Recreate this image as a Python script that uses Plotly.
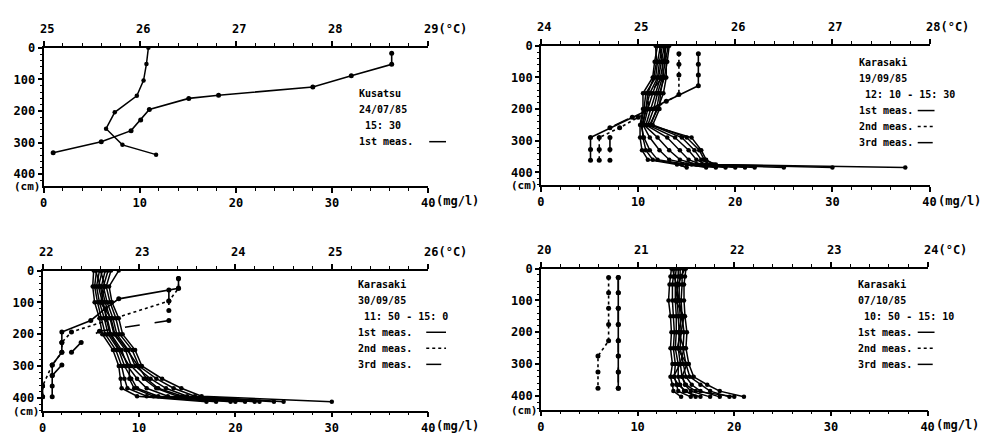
import plotly.graph_objects as go

W, H = 988, 435

# ---------------- DATA ----------------
# Panel 1 : Kusatsu 24/07/85 15:30 (1st meas.)
p1_temp_depth = [17, 52, 88, 124, 150, 160, 195, 228, 262, 297, 332]
p1_temp = [28.62, 28.62, 28.20, 27.80, 26.82, 26.51, 26.10, 26.01, 25.91, 25.60, 25.10]
p1_ss_depth = [0, 51, 103, 152, 204, 256, 307, 338]
p1_ss = [10.9, 10.7, 10.4, 9.7, 7.4, 6.5, 8.2, 11.7]

# Panel 2 : Karasaki 19/09/85 12:10 - 15:30
p2_t1_depth = [25, 58, 92, 126, 175, 226, 290, 328, 362]
p2_t1 = [25.62, 25.62, 25.62, 25.62, 25.29, 24.94, 24.51, 24.51, 24.51]
p2_t2_depth = [25, 58, 92, 154, 226, 259, 290, 328, 362]
p2_t2 = [25.42, 25.42, 25.42, 25.42, 25.00, 24.81, 24.60, 24.60, 24.60]
p2_t3_depth = [0, 50, 100, 150, 200, 259, 290, 328, 362]
p2_t3 = [25.28, 25.27, 25.25, 25.12, 25.10, 24.71, 24.71, 24.71, 24.71]
p2_ss_depth = [0, 50, 100, 150, 200, 250, 290, 330, 360, 375, 385]
p2_ss = [
    [12.0, 11.7, 11.5, 10.5, 10.5, 10.2, 10.2, 10.4, 11.0, 14.0, 15.0],
    [12.3, 12.0, 11.8, 10.8, 10.6, 10.3, 10.6, 11.2, 12.0, 15.0, 17.0],
    [12.5, 12.2, 12.0, 11.2, 10.8, 10.5, 11.2, 12.2, 13.2, 15.5, 19.0],
    [12.7, 12.4, 12.1, 11.5, 11.0, 10.6, 12.0, 13.2, 14.3, 16.0, 20.0],
    [12.9, 12.6, 12.3, 11.8, 11.3, 10.8, 13.0, 14.3, 15.2, 16.5, 22.0],
    [13.1, 12.8, 12.5, 12.0, 11.6, 11.0, 13.8, 15.2, 16.0, 17.0, 25.0],
    [13.2, 13.0, 12.7, 12.2, 11.9, 11.3, 14.5, 15.8, 16.5, 17.5, 30.0],
    [12.2, 12.5, 12.6, 12.3, 12.2, 11.5, 15.0, 16.3, 16.8, 18.0, 37.5],
    [11.8, 11.9, 11.6, 11.0, 10.8, 10.4, 10.5, 10.8, 11.5, 14.5, 18.0],
    [12.6, 12.9, 12.9, 12.6, 12.0, 11.2, 15.5, 16.5, 17.0, 17.8, 21.0],
]

# Panel 3 : Karasaki 30/09/85 11:50 - 15:0
p3_t1_depth = [25, 56, 89, 120, 157, 193, 226, 257, 297, 330, 363, 397]
p3_t1 = [23.41, 23.41, 22.79, 22.65, 22.50, 22.20, 22.20, 22.20, 22.10, 22.10, 22.10, 22.10]
p3_t2_depth = [25, 56, 96, 193, 226, 257, 297, 363, 397]
p3_t2 = [23.41, 23.41, 23.31, 22.30, 22.20, 22.20, 22.10, 22.00, 22.00]
p3_t3_depth = [61, 96, 126, 157, 191, 226, 257, 297, 330, 363, 397]
p3_t3 = [23.31, 23.31, 23.31, 23.31, 22.59, 22.40, 22.30, 22.20, 22.10, 22.00, 22.00]
p3_ss_depth = [0, 50, 100, 150, 200, 250, 300, 340, 370, 395, 412]
p3_ss = [
    [5.3, 5.2, 5.4, 5.9, 6.2, 7.3, 7.9, 8.1, 8.2, 9.8, 17.0],
    [5.6, 5.4, 5.7, 6.1, 6.5, 7.6, 8.2, 8.5, 8.8, 10.8, 18.0],
    [5.9, 5.6, 5.9, 6.4, 6.8, 7.9, 8.5, 9.2, 9.8, 12.0, 19.5],
    [6.2, 5.8, 6.2, 6.7, 7.1, 8.2, 8.8, 9.8, 10.8, 13.0, 21.0],
    [6.5, 6.1, 6.5, 7.0, 7.4, 8.6, 9.2, 10.5, 11.8, 14.0, 22.5],
    [6.8, 6.3, 6.7, 7.3, 7.7, 8.9, 9.6, 11.2, 12.8, 15.0, 24.0],
    [7.1, 6.6, 7.0, 7.6, 8.0, 9.3, 10.0, 11.8, 13.6, 15.8, 25.0],
    [7.9, 6.9, 7.2, 7.9, 8.3, 9.6, 10.3, 12.4, 14.4, 16.5, 30.0],
    [5.5, 6.0, 6.3, 6.6, 7.0, 8.0, 9.0, 9.0, 9.5, 11.5, 20.0],
    [6.0, 6.5, 6.0, 7.1, 7.5, 8.8, 9.9, 10.8, 12.0, 14.5, 22.0],
]

# Panel 4 : Karasaki 07/10/85 10:50 - 15:10
p4_t_depth = [28, 76, 125, 176, 227, 275, 325, 376]
p4_t1 = [20.80, 20.80, 20.80, 20.80, 20.80, 20.80, 20.80, 20.80]
p4_t2 = [20.70, 20.70, 20.70, 20.70, 20.70, 20.59, 20.59, 20.59]
p4_t3 = [20.80, 20.80, 20.80, 20.80, 20.80, 20.80, 20.80, 20.80]
p4_ss_depth = [0, 25, 50, 100, 150, 200, 250, 300, 340, 365, 385, 403]
p4_ss = [
    [13.5, 13.4, 13.3, 13.2, 13.4, 13.5, 13.4, 13.6, 13.4, 13.6, 13.7, 14.5],
    [13.8, 13.7, 13.6, 13.6, 13.7, 13.8, 13.7, 13.9, 13.8, 14.0, 14.2, 15.5],
    [14.0, 13.9, 13.9, 13.9, 14.0, 14.0, 13.9, 14.2, 14.2, 14.4, 14.8, 16.5],
    [14.2, 14.2, 14.1, 14.1, 14.2, 14.3, 14.2, 14.4, 14.6, 14.9, 15.5, 17.5],
    [14.4, 14.4, 14.3, 14.3, 14.4, 14.5, 14.4, 14.7, 15.0, 15.6, 16.5, 18.5],
    [14.7, 14.6, 14.6, 14.5, 14.6, 14.8, 14.7, 15.0, 15.4, 16.5, 17.5, 19.5],
    [15.0, 14.9, 14.8, 14.8, 14.9, 15.1, 15.0, 15.3, 15.8, 17.2, 18.5, 21.0],
    [13.6, 13.8, 14.0, 14.3, 14.6, 14.2, 14.8, 14.4, 13.7, 14.2, 15.0, 16.0],
    [14.9, 14.5, 14.2, 13.9, 14.8, 14.5, 14.1, 15.1, 14.6, 15.0, 16.0, 20.0],
]

ss_ticks = [0, 10, 20, 30, 40]
depth_ticks = [0, 100, 200, 300, 400]
temp_ranges = [(25, 29), (24, 28), (22, 26), (20, 24)]
station_text = [
    ["Kusatsu", "24/07/85", "\u00a015: 30"],
    ["Karasaki", "19/09/85", "\u00a012: 10 - 15: 30"],
    ["Karasaki", "30/09/85", "\u00a011: 50 - 15: 0"],
    ["Karasaki", "07/10/85", "\u00a010: 50 - 15: 10"],
]
meas_labels = ["1st meas.", "2nd meas.", "3rd meas."]
meas_dash = ["solid", "dot", "longdash"]

temps = [
    [(p1_temp_depth, p1_temp)],
    [(p2_t1_depth, p2_t1), (p2_t2_depth, p2_t2), (p2_t3_depth, p2_t3)],
    [(p3_t1_depth, p3_t1), (p3_t2_depth, p3_t2), (p3_t3_depth, p3_t3)],
    [(p4_t_depth, p4_t1), (p4_t_depth, p4_t2), (p4_t_depth, p4_t3)],
]
sss = [
    (p1_ss_depth, [p1_ss]),
    (p2_ss_depth, p2_ss),
    (p3_ss_depth, p3_ss),
    (p4_ss_depth, p4_ss),
]

# ---------------- LAYOUT GEOMETRY (pixels) ----------------
# x0, x1, ytop, ybot, depth at bottom axis
geo = [
    (40, 429, 42, 184, 437),
    (543, 936, 40, 183, 440),
    (39, 429, 271, 415, 440),
    (543, 934, 269, 414, 443),
]
# text block: left x, first line centre y, sample x0, x1
txt_geo = [
    (357, 89, 430, 447),
    (863, 57, 924, 941),
    (356, 285, 427, 447),
    (862, 285, 924, 941),
]
LSTEP = 16.5

FONT = "DejaVu Sans Mono"
tickfont = dict(family=FONT, size=12, color="black", weight="bold")
txtfont = dict(family=FONT, size=10, color="black", weight="bold")


def ref(prefix, n):
    return prefix if n == 1 else f"{prefix}{n}"


def key(prefix, n):
    return prefix if n == 1 else f"{prefix}{n}"


fig = go.Figure()
layout = {}
annotations = []
shapes = []

for i in range(4):
    bx, tx, yn = 2 * i + 1, 2 * i + 2, i + 1
    x0, x1, ytop, ybot, dbot = geo[i]
    t0, t1 = temp_ranges[i]

    common = dict(showline=True, linecolor="black", linewidth=1.8, ticks="outside",
                  tickcolor="black", tickwidth=1.5, showgrid=False, zeroline=False,
                  tickfont=tickfont)
    layout[key("xaxis", bx)] = dict(
        domain=[x0 / W, x1 / W], anchor=ref("y", yn), range=[0, 40], side="bottom",
        tickvals=ss_ticks, ticktext=[str(v) for v in ss_ticks], ticklen=5,
        minor=dict(dtick=2, ticklen=3, ticks="outside", tickcolor="black", tickwidth=1),
        **common)
    tvals = list(range(t0, t1 + 1))
    layout[key("xaxis", tx)] = dict(
        overlaying=ref("x", bx), anchor=ref("y", yn), side="top", range=[t0, t1],
        tickvals=tvals, showticklabels=False, ticklen=5,
        minor=dict(dtick=0.2, ticklen=3, ticks="outside", tickcolor="black", tickwidth=1),
        **common)
    layout[key("yaxis", yn)] = dict(
        domain=[1 - ybot / H, 1 - ytop / H], anchor=ref("x", bx), range=[dbot, 0],
        tickvals=depth_ticks, ticktext=[str(v) for v in depth_ticks], ticklen=4,
        minor=dict(dtick=20, ticklen=2, ticks="outside", tickcolor="black", tickwidth=1),
        **common)

    # SS bundle on bottom axis
    dep, lines = sss[i]
    for vals in lines:
        fig.add_trace(go.Scatter(
            x=vals, y=dep, mode="lines+markers", xaxis=ref("x", bx), yaxis=ref("y", yn),
            line=dict(color="black", width=1.5), marker=dict(color="black", size=4.5),
            showlegend=False, hoverinfo="skip"))
    # temperature on top axis
    for k, (dd, tt) in enumerate(temps[i]):
        fig.add_trace(go.Scatter(
            x=tt, y=dd, mode="lines+markers", xaxis=ref("x", tx), yaxis=ref("y", yn),
            line=dict(color="black", width=1.6, dash=meas_dash[k]),
            marker=dict(color="black", size=5), showlegend=False, hoverinfo="skip"))

    # top (temperature) tick labels, drawn on the top axis scale
    for v in tvals:
        last = v == t1
        annotations.append(dict(text=f"{v}(°C)" if last else str(v), x=v, xref=ref("x", tx),
                                y=1 - (ytop - 19) / H, yref="paper",
                                xanchor="left" if last else "center", xshift=-6 if last else 3,
                                yanchor="middle", showarrow=False, font=tickfont))

    # unit labels
    annotations.append(dict(text="(cm)", x=(x0 - 1) / W, y=1 - (ybot + 1) / H, xref="paper",
                            yref="paper", xanchor="right", yanchor="middle", showarrow=False,
                            font=dict(family=FONT, size=11, color="black", weight="bold")))
    annotations.append(dict(text="(mg/l)", x=(x1 + 6) / W, y=1 - (ybot + 16) / H, xref="paper",
                            yref="paper", xanchor="left", yanchor="middle", showarrow=False,
                            font=tickfont))

    # station text block + measurement keys
    lx, ly, sx0, sx1 = txt_geo[i]
    rows = station_text[i] + meas_labels[:len(temps[i])]
    for r, s in enumerate(rows):
        yy = ly + r * LSTEP
        annotations.append(dict(text=s, x=lx / W, y=1 - yy / H, xref="paper", yref="paper",
                                xanchor="left", yanchor="middle", showarrow=False, font=txtfont))
        if r >= len(station_text[i]):
            k = r - len(station_text[i])
            shapes.append(dict(type="line", xref="paper", yref="paper", x0=sx0 / W, x1=sx1 / W,
                               y0=1 - yy / H, y1=1 - yy / H,
                               line=dict(color="black", width=1.5, dash=meas_dash[k])))

fig.update_layout(**layout)
fig.update_layout(width=W, height=H, margin=dict(l=0, r=0, t=0, b=0),
                  paper_bgcolor="white", plot_bgcolor="white",
                  annotations=annotations, shapes=shapes, showlegend=False)

fig.write_html("out.html")
